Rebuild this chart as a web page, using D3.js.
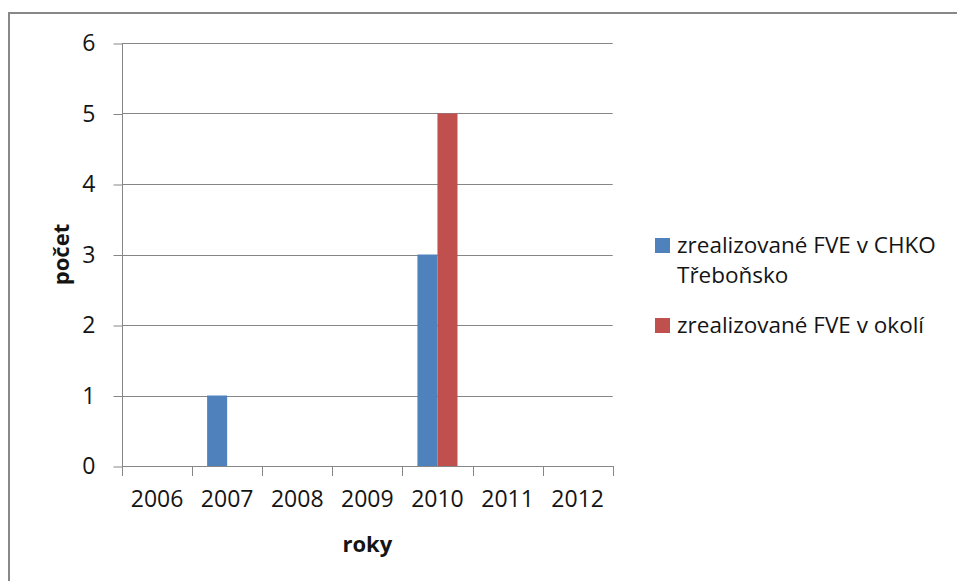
<!DOCTYPE html>
<html>
<head>
<meta charset="utf-8">
<script src="https://cdn.jsdelivr.net/npm/d3@7"></script>
<style>
  html, body { margin: 0; padding: 0; background: #fff; }
  svg { display: block; }
  text { font-family: "Open Sans", "Noto Sans", sans-serif; fill: #141414; }
</style>
</head>
<body>
<svg id="chart" width="957" height="581"></svg>
<script>
// Počet zrealizovaných FVE podle roku
const years = ["2006", "2007", "2008", "2009", "2010", "2011", "2012"];
const chko = [0, 1, 0, 0, 3, 0, 0];
const okoli = [0, 0, 0, 0, 5, 0, 0];
const seriesNames = ["zrealizované FVE v CHKO Třeboňsko", "zrealizované FVE v okolí"];
const seriesLegendLines = [["zrealizované FVE v CHKO", "Třeboňsko"], ["zrealizované FVE v okolí"]];
const seriesColors = ["#4F81BD", "#C0504D"];
const yTicks = [0, 1, 2, 3, 4, 5, 6];

const svg = d3.select("#chart");
const plot = { left: 122, right: 612.7, top: 43, bottom: 466 };

// Chart area frame
svg.append("rect")
  .attr("x", 9).attr("y", 13)
  .attr("width", 980).attr("height", 620)
  .attr("fill", "#fff")
  .attr("stroke", "#888").attr("stroke-width", 2);

const x = d3.scaleBand().domain(years).range([plot.left, plot.right]).padding(0);
const x1 = d3.scaleBand().domain(seriesNames)
  .range([x.bandwidth() * 0.2143, x.bandwidth() * 0.7857]).padding(0);
const y = d3.scaleLinear().domain([0, 6]).range([plot.bottom, plot.top]);

// Horizontal gridlines
svg.append("g").selectAll("line").data(yTicks).join("line")
  .attr("x1", plot.left).attr("x2", plot.right)
  .attr("y1", d => Math.round(y(d)) + 0.5).attr("y2", d => Math.round(y(d)) + 0.5)
  .attr("stroke", "#868686").attr("stroke-width", 1);

// Y axis
const yAxis = svg.append("g")
  .attr("transform", `translate(${plot.left + 0.5},0.5)`)
  .call(d3.axisLeft(y).tickValues(yTicks).tickSize(9).tickPadding(18).tickFormat(d3.format("d")));
yAxis.selectAll("path, line").attr("stroke", "#868686");
yAxis.select(".domain").attr("d", `M0,${y(6)}V${y(0)}`);
yAxis.selectAll("text").attr("font-size", 23).attr("font-family", "'Open Sans', sans-serif").attr("fill", "#141414");

// Bars
const data = years.map((yr, i) => ({ year: yr, values: [chko[i], okoli[i]] }));
const groups = svg.append("g").selectAll("g").data(data).join("g")
  .attr("transform", d => `translate(${x(d.year)},0)`);
groups.selectAll("rect")
  .data(d => d.values.map((v, j) => ({ name: seriesNames[j], value: v, color: seriesColors[j] })))
  .join("rect")
  .filter(d => d.value > 0)
  .attr("x", d => x1(d.name))
  .attr("width", x1.bandwidth())
  .attr("y", d => y(d.value))
  .attr("height", d => y(0) - y(d.value))
  .attr("fill", d => d.color);

// X axis: baseline and category boundary ticks
const boundaries = years.map(d => x(d)).concat([plot.right]);
svg.append("line")
  .attr("x1", plot.left).attr("x2", plot.right)
  .attr("y1", Math.round(y(0)) + 0.5).attr("y2", Math.round(y(0)) + 0.5)
  .attr("stroke", "#868686");
svg.append("g").selectAll("line").data(boundaries).join("line")
  .attr("x1", d => Math.round(d) + 0.5).attr("x2", d => Math.round(d) + 0.5)
  .attr("y1", y(0)).attr("y2", y(0) + 10)
  .attr("stroke", "#868686");

const xAxis = svg.append("g")
  .attr("transform", `translate(0,${y(0)})`)
  .call(d3.axisBottom(x).tickSize(0).tickPadding(25));
xAxis.select(".domain").remove();
xAxis.selectAll("text").attr("font-size", 23).attr("font-family", "'Open Sans', sans-serif").attr("fill", "#141414");

// Axis titles
svg.append("text")
  .attr("x", (plot.left + plot.right) / 2).attr("y", 552)
  .attr("text-anchor", "middle")
  .attr("font-size", 22).attr("font-weight", "bold")
  .text("roky");
svg.append("text")
  .attr("transform", `translate(69,${(plot.top + plot.bottom) / 2}) rotate(-90)`)
  .attr("text-anchor", "middle")
  .attr("font-size", 22).attr("font-weight", "bold")
  .text("počet");

// Legend
const legendTops = [238, 318];
const legend = svg.append("g");
seriesNames.forEach((name, i) => {
  legend.append("rect")
    .attr("x", 655).attr("y", legendTops[i])
    .attr("width", 15).attr("height", 15)
    .attr("fill", seriesColors[i]);
  seriesLegendLines[i].forEach((line, k) => {
    legend.append("text")
      .attr("x", 677).attr("y", legendTops[i] + 15 + k * 30)
      .attr("font-size", 22.5)
      .text(line);
  });
});
</script>
</body>
</html>
